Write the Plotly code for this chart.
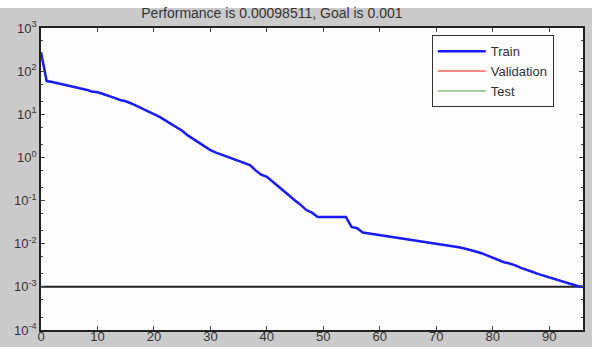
import plotly.graph_objects as go

epochs = list(range(97))
train_perf = [
    275, 58.9, 56.2, 52.5, 50.1, 46.8, 43.7, 40.7, 37.2, 33.9,
    32.4, 29.5, 26.9, 24.0, 21.4, 20.0, 17.8, 15.5, 13.5, 11.5,
    10.0, 8.71, 7.24, 6.03, 5.01, 4.17, 3.24, 2.69, 2.14, 1.78,
    1.48, 1.29, 1.15, 1.05, 0.912, 0.832, 0.741, 0.661, 0.501, 0.398,
    0.355, 0.282, 0.214, 0.166, 0.132, 0.100, 0.0794, 0.0603, 0.0525, 0.0417,
    0.0417, 0.0417, 0.0417, 0.0417, 0.0417, 0.0245, 0.0229, 0.0182, 0.0174, 0.0166,
    0.0162, 0.0155, 0.0148, 0.0141, 0.0135, 0.0129, 0.0123, 0.0117, 0.0112, 0.0105,
    0.0100, 0.00955, 0.00912, 0.00871, 0.00832, 0.00776, 0.00724, 0.00661, 0.00603, 0.00537,
    0.00479, 0.00417, 0.00372, 0.00347, 0.00316, 0.00275, 0.00251, 0.00224, 0.00200, 0.00182,
    0.00166, 0.00148, 0.00135, 0.00123, 0.00112, 0.00105, 0.00098511,
]
goal = 0.001
goal_x = [0, 96]
x_ticks = [0, 10, 20, 30, 40, 50, 60, 70, 80, 90]
y_tickvals = [1e-4, 1e-3, 1e-2, 1e-1, 1, 10, 100, 1000]
y_ticktext = ["10<sup>-4</sup>", "10<sup>-3</sup>", "10<sup>-2</sup>", "10<sup>-1</sup>",
              "10<sup>0</sup>", "10<sup>1</sup>", "10<sup>2</sup>", "10<sup>3</sup>"]
title_text = "Performance is 0.00098511, Goal is 0.001"

fig = go.Figure()
fig.add_trace(go.Scatter(x=goal_x, y=[goal, goal], mode="lines",
                         line=dict(color="#222222", width=2), showlegend=False, hoverinfo="skip"))
fig.add_trace(go.Scatter(x=epochs, y=train_perf, mode="lines", name="Train",
                         line=dict(color="#1a1aff", width=2.5)))
fig.add_trace(go.Scatter(x=[None], y=[None], mode="lines", name="Validation",
                         line=dict(color="#ff6060", width=1.5)))
fig.add_trace(go.Scatter(x=[None], y=[None], mode="lines", name="Test",
                         line=dict(color="#80c080", width=1.5)))

fig.update_layout(
    width=592, height=347,
    margin=dict(l=41, r=9, t=28, b=17),
    paper_bgcolor="#cbcbcb",
    plot_bgcolor="#fdfdfb",
    font=dict(family="Liberation Sans, Arial, sans-serif", size=13, color="#333333"),
    title=dict(text=title_text, x=0.426, xref="paper", xanchor="center",
               y=1 - 13 / 347, yref="container", yanchor="middle",
               font=dict(size=14, color="#333333")),
    legend=dict(x=0.721, y=0.976, xanchor="left", yanchor="top",
                bgcolor="#fdfdfb", bordercolor="#333333", borderwidth=1,
                font=dict(size=13, color="#333333"), itemwidth=48,
                tracegroupgap=0),
    showlegend=True,
    shapes=[dict(type="rect", xref="paper", yref="paper", x0=-0.1, x1=1.1,
                 y0=(330 - 8) / 302, y1=1.2, fillcolor="white", line=dict(width=0),
                 layer="below")],
)
fig.update_xaxes(range=[0, 96], tickvals=x_ticks, ticks="inside", ticklen=4,
                 showline=True, linecolor="#222222", linewidth=1.5, mirror="ticks",
                 showgrid=False, zeroline=False, automargin=False,
                 ticklabelstandoff=-6,
                 tickfont=dict(size=13, color="#333333"))
fig.update_yaxes(type="log", range=[-4, 3], tickvals=y_tickvals, ticktext=y_ticktext,
                 ticks="inside", ticklen=4,
                 minor=dict(ticks="inside", ticklen=2, showgrid=False),
                 showline=True, linecolor="#222222", linewidth=1.5, mirror="ticks",
                 showgrid=False, zeroline=False, automargin=False,
                 tickfont=dict(size=13, color="#333333"))

fig.write_html("out.html")
